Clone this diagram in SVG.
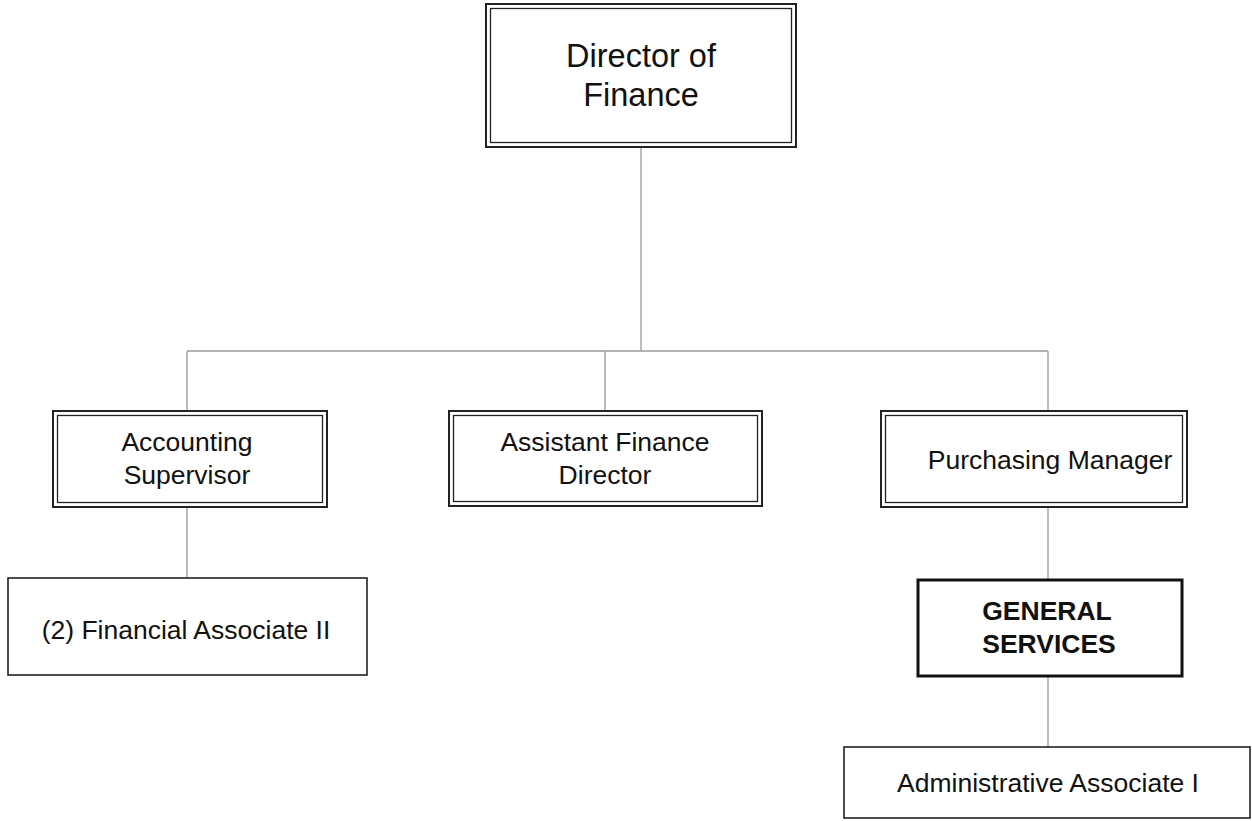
<svg xmlns="http://www.w3.org/2000/svg" width="1252" height="821" viewBox="0 0 1252 821">
<style>
.bg{fill:#fff}
.o{fill:none;stroke:#222;stroke-width:2}
.i{fill:none;stroke:#222;stroke-width:1.3}
.s{fill:#fff;stroke:#222;stroke-width:1.6}
.b{fill:#fff;stroke:#111;stroke-width:3}
.c{fill:none;stroke:#9a9a9a;stroke-width:1.3}
text{font-family:"Liberation Sans",Arial,sans-serif;fill:#111;text-anchor:middle}
.t{font-size:26.5px}
.big{font-size:32.5px}
.bold{font-size:26.5px;font-weight:bold}
</style>
<rect class="bg" width="1252" height="821"/>
<g id="connectors">
<line class="c" x1="641" y1="147" x2="641" y2="351"/>
<line class="c" x1="187" y1="351" x2="1048" y2="351"/>
<line class="c" x1="187" y1="351" x2="187" y2="410"/>
<line class="c" x1="605" y1="351" x2="605" y2="410"/>
<line class="c" x1="1048" y1="351" x2="1048" y2="410"/>
<line class="c" x1="187" y1="507" x2="187" y2="578"/>
<line class="c" x1="1048" y1="507" x2="1048" y2="579"/>
<line class="c" x1="1048" y1="676" x2="1048" y2="747"/>
</g>
<g id="director">
<rect class="o" x="486" y="4" width="310" height="143" fill="#fff"/>
<rect class="i" x="490.5" y="8.5" width="301" height="134"/>
<text class="big" x="641" y="67">Director of</text>
<text class="big" x="641" y="106">Finance</text>
</g>
<g id="accounting">
<rect class="o" x="53" y="411" width="274" height="96" fill="#fff"/>
<rect class="i" x="57.5" y="415.5" width="265" height="87"/>
<text class="t" x="187" y="451">Accounting</text>
<text class="t" x="187" y="484">Supervisor</text>
</g>
<g id="assistant">
<rect class="o" x="449" y="411" width="313" height="95" fill="#fff"/>
<rect class="i" x="453.5" y="415.5" width="304" height="86"/>
<text class="t" x="605" y="451">Assistant Finance</text>
<text class="t" x="605" y="484">Director</text>
</g>
<g id="purchasing">
<rect class="o" x="881" y="411" width="306" height="96" fill="#fff"/>
<rect class="i" x="885.5" y="415.5" width="297" height="87"/>
<text class="t" x="1050" y="469">Purchasing Manager</text>
</g>
<g id="financial">
<rect class="s" x="8" y="578" width="359" height="97"/>
<text class="t" x="186" y="639">(2) Financial Associate II</text>
</g>
<g id="general">
<rect class="b" x="918" y="580" width="264" height="96"/>
<text class="bold" x="1047" y="620">GENERAL</text>
<text class="bold" x="1049" y="653">SERVICES</text>
</g>
<g id="admin">
<rect class="s" x="844" y="747" width="406" height="71"/>
<text class="t" x="1048" y="792">Administrative Associate I</text>
</g>
</svg>
